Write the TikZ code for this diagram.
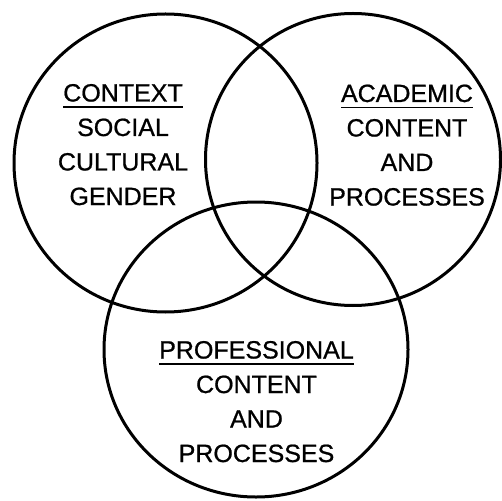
\documentclass[tikz,border=0pt]{standalone}
\usepackage{fontspec}
\setmainfont{Liberation Sans}[FakeBold=0.8,AutoFakeBold=0.8]
% word with a rule set a little below its baseline
\newcommand\headword[1]{\setbox0\hbox{#1}\rlap{\rule[-6.5bp]{\wd0}{1.6bp}}\box0}
\begin{document}
\begin{tikzpicture}[x=1bp,y=-1bp,
  ring/.style={line width=3bp},
  label/.style={align=center,inner sep=0pt,anchor=base,
    font=\fontsize{25bp}{34.5bp}\selectfont\bfseries}]
\useasboundingbox (0,0) rectangle (502,501);
% the three overlapping circles
\draw[ring] (165.5,163) ellipse [x radius=151.5, y radius=149];
\draw[ring] (353,159.5) ellipse [x radius=147.5, y radius=146];
\draw[ring] (256,349.5) ellipse [x radius=152, y radius=147.5];
% circle texts (base anchor sits on the last line)
\node[label] (context) at (123,205) {\headword{CONTEXT}\\SOCIAL\\CULTURAL\\GENDER};
\node[label] (academic) at (407,205.5) {\headword{ACADEMIC}\\CONTENT\\AND\\PROCESSES};
\node[label] (professional) at (256.5,462) {\headword{PROFESSIONAL}\\CONTENT\\AND\\PROCESSES};
\end{tikzpicture}
\end{document}
